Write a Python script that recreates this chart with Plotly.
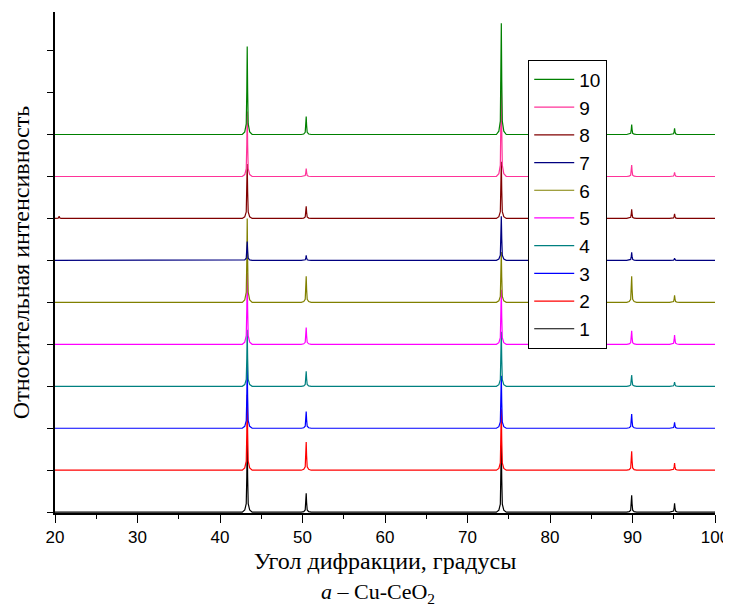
import plotly.graph_objects as go

# ---- data ----
series_names = ["1", "2", "3", "4", "5", "6", "7", "8", "9", "10"]
series_colors = ["#000000", "#ff0000", "#0000ff", "#008080", "#ff00ff",
                 "#808000", "#000080", "#800000", "#ff3399", "#008000"]
baseline_offset = [0, 1, 2, 3, 4, 5, 6, 7, 8, 9]

peak_positions = [20.5, 43.3, 50.45, 74.1, 89.9, 95.1]
h_20 = [0, 0, 0, 0, 0, 0, 0, 0.05, 0, 0]
h_43 = [1.7, 1.8, 1.5, 1.35, 1.7, 2.0, 0.45, 1.3, 1.55, 2.1]
h_50 = [0.45, 0.67, 0.40, 0.36, 0.40, 0.62, 0.12, 0.29, 0.19, 0.43]
h_74 = [1.6, 1.45, 1.25, 1.3, 1.3, 1.2, 1.05, 1.35, 2.26, 2.65]
h_90 = [0.40, 0.45, 0.34, 0.27, 0.32, 0.62, 0.19, 0.22, 0.27, 0.24]
h_95 = [0.21, 0.17, 0.14, 0.10, 0.22, 0.17, 0.05, 0.11, 0.10, 0.15]
peak_heights = [h_20, h_43, h_50, h_74, h_90, h_95]

x_min, x_max = 20, 100
x_ticks = [20, 30, 40, 50, 60, 70, 80, 90, 100]
y_ticks = list(range(0, 12))

# line-shape template of one reflection (offset in degrees, fraction of height)
profile_dx = [-0.6, -0.3, -0.12, -0.05, 0.0, 0.05, 0.12, 0.3, 0.6]
profile_fr = [0.0, 0.03, 0.12, 0.5, 1.0, 0.5, 0.12, 0.03, 0.0]

fig = go.Figure()
for i, name in enumerate(series_names):
    xs, ys = [x_min], [baseline_offset[i]]
    for p, pos in enumerate(peak_positions):
        h = peak_heights[p][i]
        for dx, fr in zip(profile_dx, profile_fr):
            x = pos + dx
            if x_min <= x <= x_max:
                xs.append(x)
                ys.append(baseline_offset[i] + h * fr)
    xs.append(x_max)
    ys.append(baseline_offset[i])
    fig.add_trace(go.Scatter(x=xs, y=ys, mode="lines", name=name,
                             line=dict(color=series_colors[i], width=1.2)))

# the page body adds an 8 px margin, so the figure is 8 px smaller and shifted
fig.update_layout(
    width=723, height=599,
    margin=dict(l=47, r=16, t=4, b=94),
    plot_bgcolor="white", paper_bgcolor="white",
    showlegend=True,
    legend=dict(traceorder="reversed", x=0.717, y=0.905, xanchor="left", yanchor="top",
                bgcolor="white", bordercolor="black", borderwidth=1,
                font=dict(family="Liberation Sans, Arial", size=19, color="black"),
                tracegroupgap=0, itemwidth=40),
    xaxis=dict(range=[x_min, x_max], tickvals=x_ticks, ticks="outside", ticklen=8,
               tickcolor="black", showline=True, linecolor="black", linewidth=1.5,
               showgrid=False, zeroline=False, automargin=False,
               minor=dict(ticks="outside", ticklen=4, tickcolor="black", dtick=5, showgrid=False),
               tickfont=dict(family="Liberation Sans, Arial", size=17, color="black"),
               title=dict(text="Угол дифракции, градусы", standoff=6,
                          font=dict(family="Liberation Serif, Times New Roman", size=24, color="black"))),
    yaxis=dict(range=[-0.02, 11.92], tickvals=y_ticks, showticklabels=False, ticks="outside",
               ticklen=6, tickcolor="black", showline=True, linecolor="black", linewidth=1.5,
               showgrid=False, zeroline=False, automargin=False,
               title=dict(text="Относительная интенсивность", standoff=17,
                          font=dict(family="Liberation Serif, Times New Roman", size=24, color="black"))),
    annotations=[dict(text="<i>a</i> – Cu-CeO<sub>2</sub>", xref="paper", yref="paper",
                      x=0.49, y=-0.127, xanchor="center", yanchor="top", showarrow=False,
                      font=dict(family="Liberation Serif, Times New Roman", size=22, color="black"))],
)

fig.write_html("out.html")
